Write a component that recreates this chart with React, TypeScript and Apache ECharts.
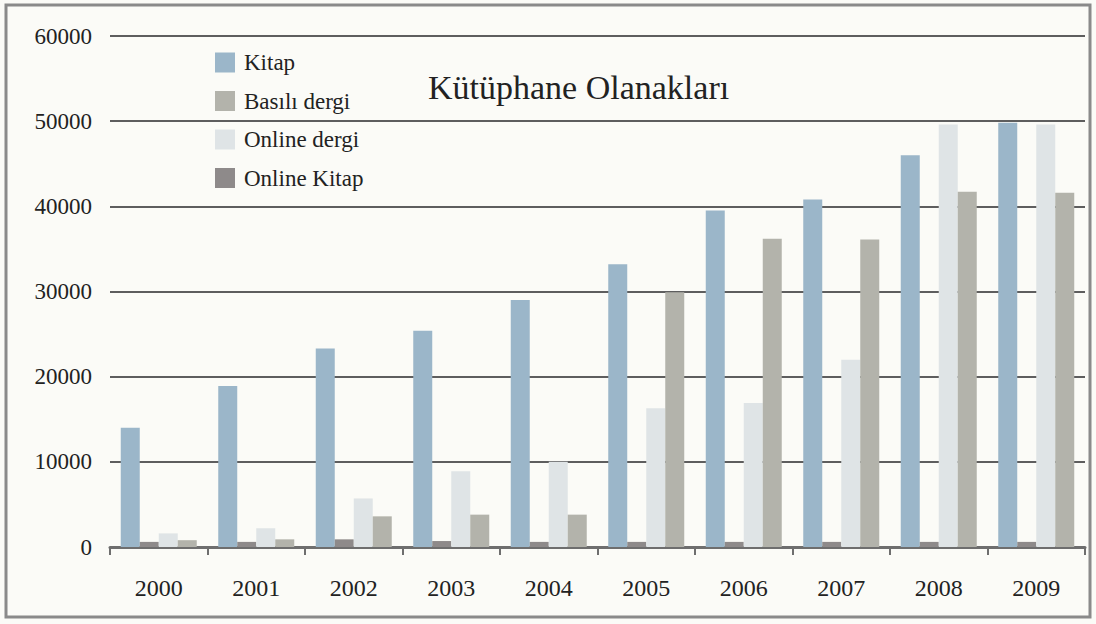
import React, { useEffect, useRef } from "react";
import * as echarts from "echarts";

const years = ["2000", "2001", "2002", "2003", "2004", "2005", "2006", "2007", "2008", "2009"];
const kitap = [14000, 18900, 23300, 25400, 29000, 33200, 39500, 40800, 46000, 49800];
const onlineKitap = [600, 600, 900, 700, 600, 600, 600, 600, 600, 600];
const onlineDergi = [1600, 2200, 5700, 8900, 10000, 16300, 16900, 22000, 49600, 49600];
const basiliDergi = [800, 900, 3600, 3800, 3800, 29900, 36200, 36100, 41700, 41600];
const yTicks = [0, 10000, 20000, 30000, 40000, 50000, 60000];

const SERIF = "'Liberation Serif', 'DejaVu Serif', serif";

export default function App() {
  const ref = useRef<HTMLDivElement>(null);
  useEffect(() => {
    if (!ref.current) return;
    const chart = echarts.init(ref.current, undefined, { renderer: "svg" });
    const barW = 19;
    chart.setOption({
      animation: false,
      backgroundColor: "#fbfbf7",
      title: {
        text: "Kütüphane Olanakları",
        left: 423,
        top: 65,
        textStyle: { fontFamily: SERIF, fontSize: 34, fontWeight: "normal", color: "#222" },
      },
      legend: {
        orient: "vertical",
        left: 210,
        top: 46,
        itemWidth: 20,
        itemHeight: 20,
        itemGap: 15.5,
        icon: "rect",
        data: ["Kitap", "Basılı dergi", "Online dergi", "Online Kitap"],
        textStyle: { fontFamily: SERIF, fontSize: 23, color: "#222", padding: [0, 0, 0, 4] },
      },
      grid: { left: 110, right: 11, top: 36, bottom: 77, containLabel: false },
      xAxis: {
        type: "category",
        data: years,
        axisLine: { lineStyle: { color: "#6e6e6e", width: 3 } },
        axisTick: { show: true, length: 8, lineStyle: { color: "#6e6e6e", width: 2 } },
        axisLabel: { fontFamily: SERIF, fontSize: 24, color: "#222", margin: 29 },
      },
      yAxis: {
        type: "value",
        min: yTicks[0],
        max: yTicks[yTicks.length - 1],
        interval: yTicks[1] - yTicks[0],
        axisLine: { show: false },
        axisTick: { show: false },
        axisLabel: {
          fontFamily: SERIF,
          fontSize: 23,
          color: "#222",
          margin: 18,
          formatter: (v: number) => String(v),
        },
        splitLine: { lineStyle: { color: "#5e5e5e", width: 2 } },
      },
      graphic: [
        {
          type: "rect",
          shape: { x: 6, y: 5, width: 1084, height: 612 },
          style: { fill: "none", stroke: "#8a8a8a", lineWidth: 3 },
          z: 100,
        },
      ],
      series: [
        { name: "Kitap", type: "bar", data: kitap, barWidth: barW, barGap: "0%", itemStyle: { color: "#9bb6c9" } },
        { name: "Online Kitap", type: "bar", data: onlineKitap, barWidth: barW, barGap: "0%", itemStyle: { color: "#8e8a8a" } },
        { name: "Online dergi", type: "bar", data: onlineDergi, barWidth: barW, barGap: "0%", itemStyle: { color: "#dfe4e6" } },
        { name: "Basılı dergi", type: "bar", data: basiliDergi, barWidth: barW, barGap: "0%", itemStyle: { color: "#b3b3ab" } },
      ],
    });
    return () => chart.dispose();
  }, []);
  return <div ref={ref} style={{ position: "absolute", left: 0, top: 0, width: 1096, height: 624 }} />;
}
